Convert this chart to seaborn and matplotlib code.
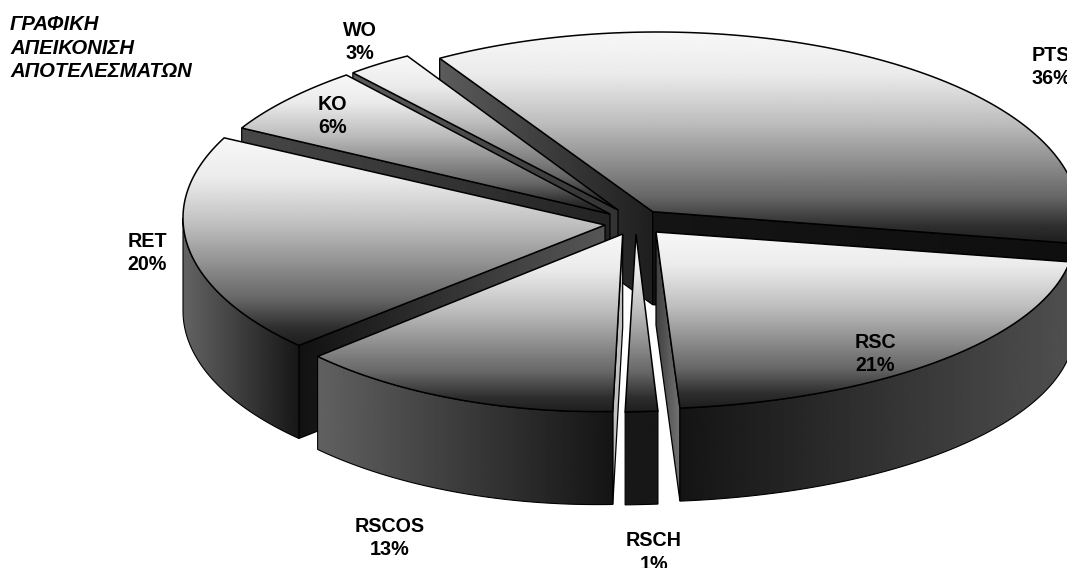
import numpy as np
import matplotlib
matplotlib.use("Agg")
import matplotlib.pyplot as plt
from matplotlib.patches import Polygon
import seaborn as sns

# Share of each outcome, clockwise from the rear edge of the largest slice
categories = ["PTS", "RSC", "RSCH", "RSCOS", "RET", "KO", "WO"]
shares = [36, 21, 1, 13, 20, 6, 3]
heading = ["ΓΡΑΦΙΚΗ", "ΑΠΕΙΚΟΝΙΣΗ", "ΑΠΟΤΕΛΕΣΜΑΤΩΝ"]

START_ANGLE = 121.0
DEPTH = 93.0
W, H = 1067, 568

# Pixel layout of each exploded slice: tip, rim centre and rim radii
tips = {"PTS": (652.7, 211.7), "RSC": (656, 232), "RSCH": (636, 234),
        "RSCOS": (622.7, 234), "RET": (605, 225), "KO": (610, 214), "WO": (618, 210)}
rims = {"PTS": (657, 216, 422, 184), "RSC": (635.6, 236, 439, 173),
        "RSCH": (605, 233, 524, 179), "RSCOS": (597.5, 220, 398.6, 191.6),
        "RET": (572, 218, 389, 179), "KO": (653, 207.7, 460, 178),
        "WO": (592.8, 184.6, 360, 150)}
# Grey ramps, left to right: outer wall, first cut face, second cut face
wall_ramp = {"PTS": (.30, .30), "RSC": (.08, .31), "RSCH": (.09, .09),
             "RSCOS": (.38, .08), "RET": (.39, .09), "KO": (.3, .3), "WO": (.3, .3)}
face_ramp = {"PTS": ((.36, .12), (.08, .06)), "RSC": ((.10, .10), (.25, .45)),
             "RSCH": ((.1, .1), (.1, .1)), "RSCOS": ((.75, .75), (.30, .30)),
             "RET": ((.07, .34), (.08, .32)), "KO": ((.28, .14), (.15, .32)),
             "WO": ((.36, .2), (.2, .35))}
# Grey of the top surface against the fraction of its height from the rear
top_stops = ([0, .2, .42, .78, .92, 1], [.97, .92, .75, .40, .18, .12])
label_at = {"PTS": (1051, 67), "RSC": (875, 354), "RSCH": (654, 552.5), "RSCOS": (390, 538),
            "RET": (147, 253), "KO": (332.5, 116), "WO": (360, 42)}
draw_order = ["PTS", "WO", "KO", "RET", "RSC", "RSCH", "RSCOS"]

sns.set_theme(style="white")
plt.rcParams["font.family"] = ["Liberation Sans", "DejaVu Sans"]
grey = sns.blend_palette(["#000000", "#ffffff"], as_cmap=True)

fig = plt.figure(figsize=(W / 100, H / 100), dpi=100, facecolor="white")
ax = fig.add_axes([0, 0, 1, 1])
ax.set_axis_off()

layer = [1]


def fill_ramp(points, ramp, edge=0.9):
    """Fill a polygon with a grey ramp image and outline it in black."""
    pts = np.asarray(points)
    x0, y0 = pts.min(axis=0)
    x1, y1 = pts.max(axis=0)
    img = ax.imshow(ramp, extent=(x0, x1, y1, y0), cmap=grey, vmin=0, vmax=1,
                    aspect="auto", interpolation="bilinear", zorder=layer[0])
    clip = Polygon(pts, closed=True, transform=ax.transData, fill=False, edgecolor="none")
    ax.add_patch(clip)
    img.set_clip_path(clip)
    ax.add_patch(Polygon(pts, closed=True, fill=False, edgecolor="black", lw=edge,
                         joinstyle="miter", zorder=layer[0] + 0.5))
    layer[0] += 1


def horizontal(lo, hi):
    return np.linspace(lo, hi, 256)[None, :]


def rim_points(name, t):
    cx, cy, a, b = rims[name]
    r = np.radians(t)
    return np.column_stack([cx + a * np.cos(r), cy - b * np.sin(r)])


def faces_viewer(tip, corner, middle):
    """A cut face shows when the slice lies above its edge on screen."""
    dx, dy = corner - tip
    side = (middle[0] - tip[0]) * dy - (middle[1] - tip[1]) * dx
    return side > 0 if dx > 0 else side < 0


sweeps = np.array(shares) / sum(shares) * 360.0
ends = START_ANGLE - np.cumsum(sweeps)
starts = ends + sweeps
spans = {c: (s, e) for c, s, e in zip(categories, starts, ends)}
down = np.array([0, DEPTH])
top_ramp = np.interp(np.linspace(0, 1, 256), *top_stops)[:, None]

for name in draw_order:
    t0, t1 = spans[name]
    tip = np.array(tips[name])
    corners = rim_points(name, np.array([t0, t1]))
    middle = rim_points(name, np.array([(t0 + t1) / 2]))[0]

    for corner, (lo, hi) in zip(corners, face_ramp[name]):
        if faces_viewer(tip, corner, middle):
            fill_ramp([tip, corner, corner + down, tip + down], horizontal(lo, hi))

    # Outer wall: only the part of the rim on the near half is visible
    near_hi, near_lo = min(t0, 0.0), max(t1, -180.0)
    if near_hi > near_lo:
        arc = rim_points(name, np.linspace(near_hi, near_lo, 90))
        fill_ramp(np.vstack([arc, arc[::-1] + down]), horizontal(*wall_ramp[name]), edge=0.8)

    # Top surface, bright at its rear and dark at its front
    top = np.vstack([tip[None, :], rim_points(name, np.linspace(t0, t1, 160))])
    fill_ramp(top, top_ramp, edge=1.1)

for name, value in zip(categories, shares):
    x, y = label_at[name]
    ax.text(x, y, f"{name}\n{value}%", ha="center", va="center", fontsize=14.2,
            fontweight="bold", color="black", linespacing=1.3, zorder=layer[0])

ax.text(10, 48, "\n".join(heading), ha="left", va="center", fontsize=14.6,
        fontweight="bold", fontstyle="italic", color="black", linespacing=1.28, zorder=layer[0])

ax.set_xlim(0, W)
ax.set_ylim(H, 0)
fig.savefig("out.png", dpi=100, facecolor="white")
